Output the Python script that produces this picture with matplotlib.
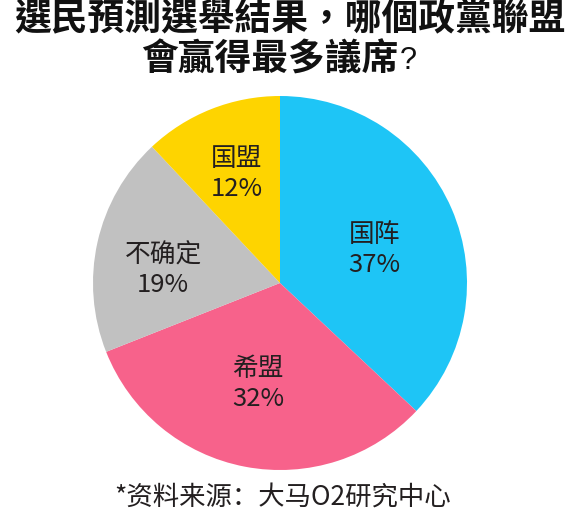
import matplotlib
matplotlib.use("Agg")
import matplotlib.pyplot as plt
import numpy as np

# Poll results
parties = ["国阵", "希盟", "不确定", "国盟"]
shares = [37, 32, 19, 12]
colors = ["#1ec5f6", "#f7628b", "#c1c1c1", "#fed400"]

# label placement: distance from centre (in radii) and angular nudge (deg)
label_radius = [0.54, 0.54, 0.63, 0.64]
label_nudge = [-3.2, -1.7, 5.3, -0.2]

title_line1 = "選民預測選舉結果，哪個政黨聯盟"
title_line2 = "會贏得最多議席"
source_note = "*资料来源：大马O2研究中心"

W, H = 580, 517
fig = plt.figure(figsize=(W / 100, H / 100), dpi=100)
fig.patch.set_facecolor("white")

# pie axes placed in pixel terms
cx, cy, r = 280, 283, 187
ax = fig.add_axes([(cx - r) / W, (H - cy - r) / H, 2 * r / W, 2 * r / H])
wedges, _ = ax.pie(shares, colors=colors, startangle=90, counterclock=False,
                   radius=1.0, wedgeprops=dict(linewidth=0))
ax.set_xlim(-1, 1)
ax.set_ylim(-1, 1)
ax.set_aspect("equal")
ax.axis("off")

txt_color = "#231f20"
lab_font = dict(family=["Noto Sans CJK SC", "DejaVu Sans"], fontsize=18.5, color=txt_color)
px = 1.0 / r
for w, name, val, rr, nd in zip(wedges, parties, shares, label_radius, label_nudge):
    mid = np.deg2rad((w.theta1 + w.theta2) / 2 + nd)
    x, y = rr * np.cos(mid), rr * np.sin(mid) - 2 * px
    ax.text(x, y + 15 * px, name, ha="center", va="center", **lab_font)
    ax.text(x, y - 15 * px, f"{val}%", ha="center", va="center", **lab_font)

title_font = dict(family=["Noto Sans CJK TC", "DejaVu Sans"], fontsize=26.5,
                  fontweight="heavy", color="#111111")
fig.text(290 / W, 1 - 20 / H, title_line1, ha="center", va="center", **title_font)
t2 = fig.text(270 / W, 1 - 60 / H, title_line2, ha="center", va="center", **title_font)

# question mark in a lighter Latin face right after the bold line
fig.canvas.draw()
bb = t2.get_window_extent()
fig.text(bb.x1 / W + 0.002, 1 - 61 / H, "?", ha="left", va="center",
         family="Liberation Sans", fontsize=22, color="#111111")

fig.text(283 / W, 1 - 497 / H, source_note, ha="center", va="center",
         family=["Noto Sans CJK SC", "DejaVu Sans"], fontsize=19, color=txt_color)

fig.savefig("out.png", dpi=100, facecolor="white")
